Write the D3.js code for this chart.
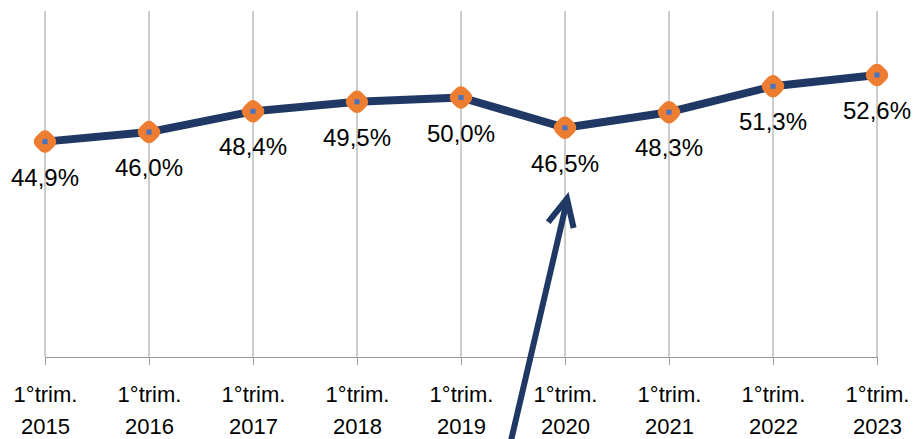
<!DOCTYPE html>
<html><head><meta charset="utf-8">
<script src="https://cdn.jsdelivr.net/npm/d3@7"></script>
<style>body{margin:0;background:#fff}svg{display:block}</style>
</head><body>
<svg id="c" width="917" height="439"></svg>
<script>
const categories = ["2015","2016","2017","2018","2019","2020","2021","2022","2023"];
const tickPrefix = "1°trim.";
const values = [44.9, 46.0, 48.4, 49.5, 50.0, 46.5, 48.3, 51.3, 52.6];
const valueLabels = ["44,9%","46,0%","48,4%","49,5%","50,0%","46,5%","48,3%","51,3%","52,6%"];
const yDomain = [20, 60];

const svg = d3.select("#c");
const x = d3.scalePoint().domain(categories).range([45, 877]);
const y = d3.scaleLinear().domain(yDomain).range([357, 11]);
const navy = "#1F3864", orange = "#ED7D31", grid = "#9a9a9a";

// vertical gridlines
svg.append("g").selectAll("line").data(categories).join("line")
  .attr("x1", d => x(d)).attr("x2", d => x(d))
  .attr("y1", y(yDomain[1])).attr("y2", y(yDomain[0]))
  .attr("stroke", grid).attr("stroke-width", 1);

// bottom axis
const ax = svg.append("g").attr("transform", `translate(0,${y(yDomain[0])})`)
  .call(d3.axisBottom(x).tickSize(8).tickFormat(""));
ax.select(".domain").attr("stroke", grid).attr("d", `M${x(categories[0])},0.5H${x(categories[categories.length-1])}`);
ax.selectAll(".tick line").attr("stroke", grid);
ax.selectAll(".tick").each(function(d){
  const t = d3.select(this).append("text").attr("fill","#000")
    .attr("font-family","'Liberation Sans', Arial, sans-serif").attr("font-size",22)
    .attr("text-anchor","middle");
  t.append("tspan").attr("x",0).attr("y",45).text(tickPrefix);
  t.append("tspan").attr("x",0).attr("y",77).text(d);
});

// line
const data = categories.map((c,i)=>({c, v: values[i], l: valueLabels[i]}));
svg.append("path").datum(data)
  .attr("d", d3.line().x(d=>x(d.c)).y(d=>y(d.v)))
  .attr("fill","none").attr("stroke", navy).attr("stroke-width", 8)
  .attr("stroke-linejoin","round");

// markers
const m = svg.append("g").selectAll("g").data(data).join("g")
  .attr("transform", d => `translate(${x(d.c)},${y(d.v)})`);
m.append("rect").attr("x",-10).attr("y",-10).attr("width",20).attr("height",20)
  .attr("rx",7).attr("transform","rotate(45)").attr("fill", orange);
m.append("rect").attr("x",-2.5).attr("y",-2.5).attr("width",5).attr("height",5)
  .attr("fill","#4472C4");

// data labels
svg.append("g").selectAll("text").data(data).join("text")
  .attr("x", d => x(d.c)).attr("y", d => y(d.v) + 44)
  .attr("text-anchor","middle").attr("font-family","'Liberation Sans', Arial, sans-serif")
  .attr("font-size",24).attr("fill","#000").text(d => d.l);

// arrow annotation pointing at 2020
const tipX = x("2020") + 2, tipY = y(values[5]) + 71;
const baseX = tipX - 57, baseY = 445;
svg.append("line").attr("x1", baseX).attr("y1", baseY).attr("x2", tipX).attr("y2", tipY + 2)
  .attr("stroke", navy).attr("stroke-width", 6);
const ang = Math.atan2(baseY - tipY, baseX - tipX);
const wing = 30, spread = 0.45;
const p = d3.path();
p.moveTo(tipX + wing*Math.cos(ang+spread), tipY + wing*Math.sin(ang+spread));
p.lineTo(tipX, tipY);
p.lineTo(tipX + wing*Math.cos(ang-spread), tipY + wing*Math.sin(ang-spread));
svg.append("path").attr("d", p.toString()).attr("fill","none")
  .attr("stroke", navy).attr("stroke-width", 6).attr("stroke-linejoin","miter");
</script>
</body></html>
